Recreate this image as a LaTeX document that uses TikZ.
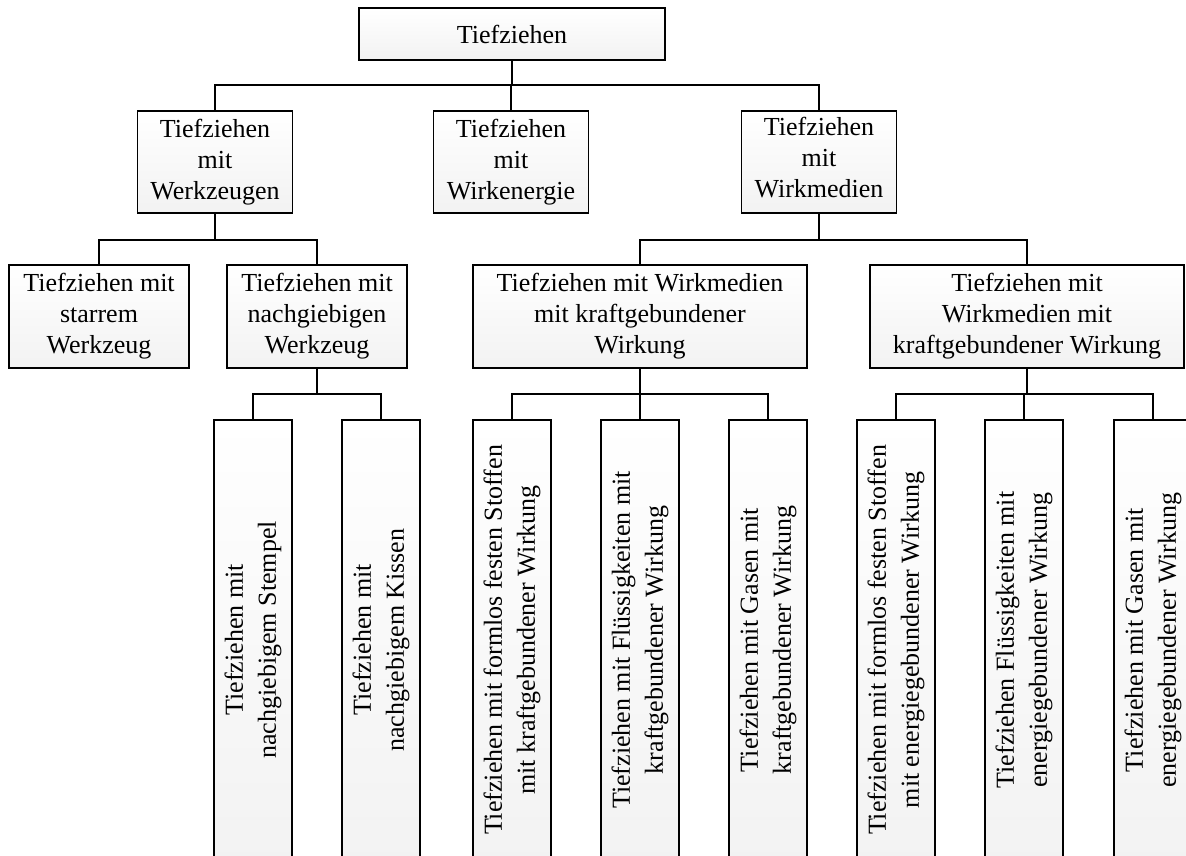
\documentclass[tikz,border=0pt]{standalone}
\usepackage{fontspec}
\setmainfont{Liberation Serif}
\usetikzlibrary{positioning,shadings}

\begin{document}
\begin{tikzpicture}[x=0.5pt,y=-0.5pt,line width=0.75pt,
  font=\fontsize{13}{15.5}\selectfont,
  box/.style={draw,top color=white,bottom color=gray!10,align=center,
    inner sep=0pt,minimum width=#1,minimum height=51pt},
  vbox/.style={draw,rotate=90,top color=white,bottom color=gray!10,align=center,
    inner sep=0pt,minimum width=220pt,minimum height=39pt,
    font=\fontsize{13}{16.5}\selectfont}]
  \useasboundingbox (0,0) rectangle (1186,855);

  % levels
  \node[box=153pt,minimum height=26pt] (root) at (512,34) {Tiefziehen};
  \node[box=77.5pt] (werk) at (215,162) {Tiefziehen\\mit\\Werkzeugen};
  \node[box=77.5pt] (energie) at (511,162) {Tiefziehen\\mit\\Wirkenergie};
  \node[box=77.5pt] (medien) at (819,162) {Tiefziehen\\mit\\Wirkmedien\strut};

  \node[box=90pt,minimum height=51.5pt] (starr) at (99,316.5) {Tiefziehen mit\\starrem\\Werkzeug};
  \node[box=90pt,minimum height=51.5pt] (nachg) at (317,316.5) {Tiefziehen mit\\nachgiebigen\\Werkzeug};
  \node[box=167pt,minimum height=51.5pt] (kraft) at (640,316.5) {Tiefziehen mit Wirkmedien\\mit kraftgebundener\\Wirkung};
  \node[box=157pt,minimum height=51.5pt] (energ) at (1027,316.5) {Tiefziehen mit\\Wirkmedien mit\\kraftgebundener Wirkung};

  \foreach \x/\name/\txt in {253/vStempel/{Tiefziehen mit\\nachgiebigem Stempel},
      381/vKissen/{Tiefziehen mit\\nachgiebigem Kissen},
      512/vFestK/{Tiefziehen mit formlos festen Stoffen\\mit kraftgebundener Wirkung},
      640/vFlueK/{Tiefziehen mit Flüssigkeiten mit\\kraftgebundener Wirkung},
      768/vGasK/{Tiefziehen mit Gasen mit\\kraftgebundener Wirkung},
      896/vFestE/{Tiefziehen mit formlos festen Stoffen\\mit energiegebundener Wirkung},
      1024/vFlueE/{Tiefziehen Flüssigkeiten mit\\energiegebundener Wirkung},
      1153/vGasE/{Tiefziehen mit Gasen mit\\energiegebundener Wirkung}}{
    \node[vbox] (\name) at (\x,640) {\txt};
  }

  % connectors
  \coordinate (b1) at (0,85);
  \coordinate (b2) at (0,240);
  \coordinate (b3) at (0,394);
  \draw (root.south) -- (root.south |- b1);
  \draw (werk.north) |- (medien.north |- b1) -- (medien.north);
  \draw (energie.north) -- (energie.north |- b1);

  \draw (werk.south) -- (werk.south |- b2);
  \draw (starr.north) |- (nachg.north |- b2) -- (nachg.north);
  \draw (medien.south) -- (medien.south |- b2);
  \draw (kraft.north) |- (energ.north |- b2) -- (energ.north);

  \draw (nachg.south) -- (nachg.south |- b3);
  \draw (vStempel.east) |- (vKissen.east |- b3) -- (vKissen.east);
  \draw (kraft.south) -- (kraft.south |- b3);
  \draw (vFestK.east) |- (vGasK.east |- b3) -- (vGasK.east);
  \draw (vFlueK.east) -- (vFlueK.east |- b3);
  \draw (energ.south) -- (energ.south |- b3);
  \draw (vFestE.east) |- (vGasE.east |- b3) -- (vGasE.east);
  \draw (vFlueE.east) -- (vFlueE.east |- b3);
\end{tikzpicture}
\end{document}
